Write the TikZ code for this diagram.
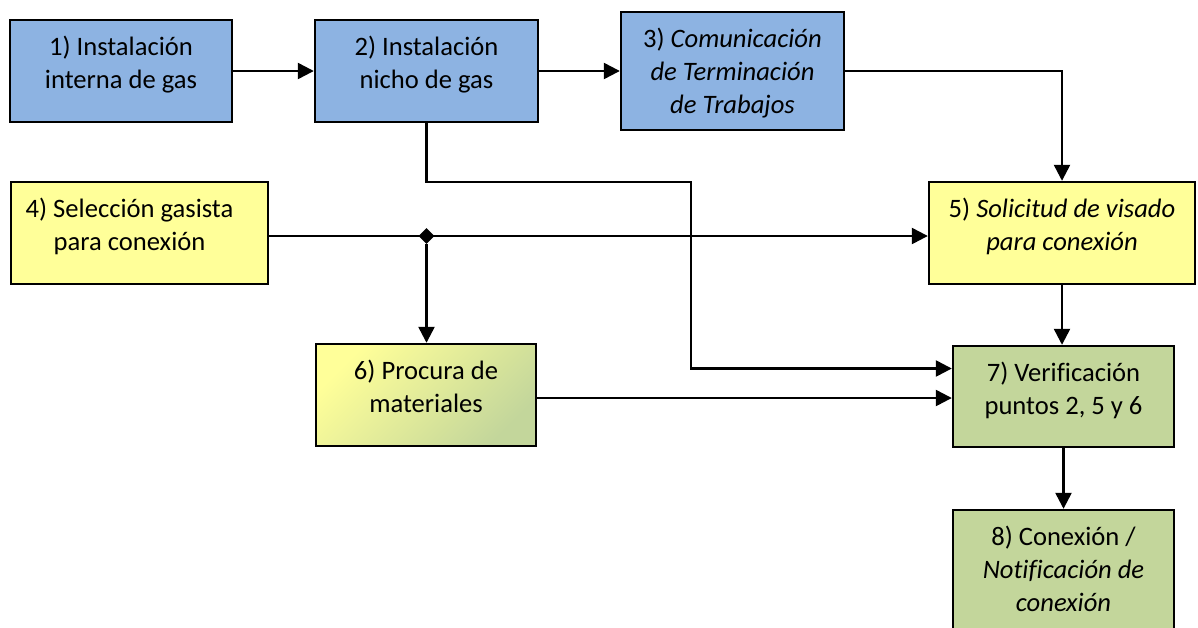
\documentclass[tikz,border=0pt]{standalone}
\usepackage{fontspec}
\setmainfont{Carlito}[Ligatures=CommonOff]
\usepackage{tikz}
\usepackage{xcolor}
\usetikzlibrary{positioning, calc, arrows.meta, shapes.geometric}

\definecolor{boxblue}{HTML}{8DB3E2}
\definecolor{boxyellow}{HTML}{FFFF99}
\definecolor{boxgreen}{HTML}{C3D69B}

\begin{document}
\begin{tikzpicture}[x=0.5pt, y=0.5pt,
    box/.style 2 args={draw, line width=1.2pt, inner sep=0pt, minimum width=#1, minimum height=#2},
    txt/.style={align=center, inner sep=0pt, font=\fontsize{13.3pt}{16.5pt}\selectfont},
    link/.style={line width=1.2pt, -{Triangle[length=8pt, width=8pt]}}]
    \clip (0,0) rectangle (1198,-627);
    \useasboundingbox (0,0) rectangle (1198,-627);

    % boxes
    \node[box={111pt}{51pt}, fill=boxblue] (n1) at (121,-71) {};
    \node[box={111.5pt}{51pt}, fill=boxblue] (n2) at (426.5,-71) {};
    \node[box={111.5pt}{59pt}, fill=boxblue] (n3) at (732.5,-71) {};
    \node[box={128.5pt}{51pt}, fill=boxyellow] (n4) at (139.5,-233) {};
    \node[box={133pt}{51pt}, fill=boxyellow] (n5) at (1062,-233) {};
    \node[box={110pt}{51pt}, top color=boxyellow, bottom color=boxgreen, shading angle=45] (n6) at (426,-395) {};
    \node[box={110.5pt}{50.5pt}, fill=boxgreen] (n7) at (1063.5,-396.5) {};
    \node[box={110.5pt}{65pt}, fill=boxgreen] (n8) at (1063.5,-575) {};

    % texts
    \node[txt, below=8.2pt of n1.north] (t1) {1) Instalación\\interna de gas};
    \node[txt, below=8.2pt of n2.north] (t2) {2) Instalación\\nicho de gas};
    \node[txt, below=8.2pt of n3.north] (t3) {3) \textit{Comunicación}\\\textit{de Terminación}\\\textit{de Trabajos}};
    \node[txt, below=8.2pt of n4.north, xshift=-5pt] (t4) {4) Selección gasista\\para conexión};
    \node[txt, below=8.2pt of n5.north] (t5) {5) \textit{Solicitud de visado}\\\textit{para conexión}};
    \node[txt, below=8.2pt of n6.north] (t6) {6) Procura de\\materiales};
    \node[txt, below=8.2pt of n7.north] (t7) {7) Verificación\\puntos 2, 5 y 6};
    \node[txt, below=8.2pt of n8.north] (t8) {8) Conexión /\\\textit{Notificación de}\\\textit{conexión}};

    % connectors
    \coordinate (p4) at ([yshift=-1.5pt]n4.east);
    \coordinate (p6) at ([yshift=-1.5pt]n6.east);
    \coordinate (c1) at (691,-182);
    \node[diamond, fill, inner sep=0pt, minimum size=8pt] (j) at (n2.south |- p4) {};
    \draw[link] (n1.east) -- (n2.west);
    \draw[link] (n2.east) -- (n3.west);
    \draw[link] (n3.east) -| (n5.north);
    \draw[link] (n2.south) |- (c1) |- ([yshift=14pt]n7.west);
    \draw[link] (p4) -- (p4 -| n5.west);
    \draw[link] (j) -- (j |- n6.north);
    \draw[link] (n5.south) -- (n5.south |- n7.north);
    \draw[link] (p6) -- (p6 -| n7.west);
    \draw[link] (n7.south) -- (n8.north);
\end{tikzpicture}
\end{document}
